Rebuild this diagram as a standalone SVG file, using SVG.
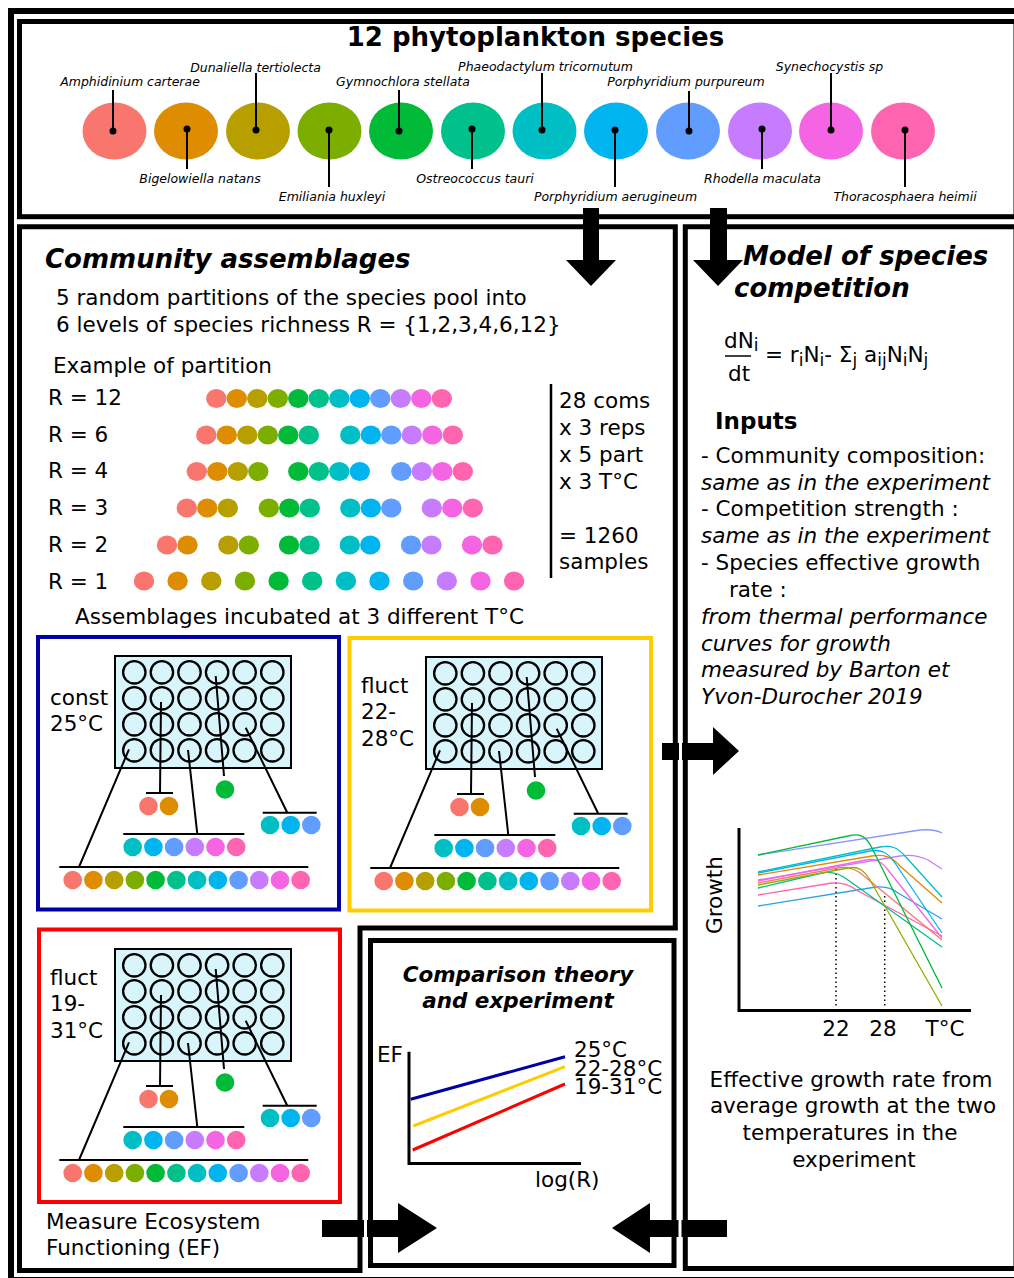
<svg xmlns="http://www.w3.org/2000/svg" xmlns:xlink="http://www.w3.org/1999/xlink" width="1014" height="1278" viewBox="0 0 1014 1278">
<style>
text{font-family:"DejaVu Sans","Liberation Sans",sans-serif;font-size:21.5px;fill:#000}
.sp{font-size:12.5px;font-style:italic}
.bi{font-weight:bold;font-style:italic;font-size:26px}
.bi2{font-weight:bold;font-style:italic;font-size:21.5px}
.it{font-style:italic}
.sub{font-size:17px}
.frame{fill:none;stroke:#000;stroke-width:5}
.pin{stroke:#000;stroke-width:2;fill:none}
.thin{stroke:#000;stroke-width:2;fill:none}
.well{fill:#d8f5fb;stroke:#000;stroke-width:2.3}
.crv{fill:none;stroke-width:1.3}
.arrow{fill:#000}
.gap{fill:#fff}
.c1{fill:#F8766D}.c2{fill:#DE8C00}.c3{fill:#B79F00}.c4{fill:#7CAE00}.c5{fill:#00BA38}.c6{fill:#00C08B}
.c7{fill:#00BFC4}.c8{fill:#00B4F0}.c9{fill:#619CFF}.c10{fill:#C77CFF}.c11{fill:#F564E3}.c12{fill:#FF64B0}
</style>
<defs>
<g id="plateTpl">
<rect x="115" y="656" width="176" height="112" fill="#d8f5fb" stroke="#000" stroke-width="2"/>
<g class="well">
<circle cx="134.3" cy="672.3" r="11.2"/><circle cx="161.9" cy="672.3" r="11.2"/><circle cx="189.5" cy="672.3" r="11.2"/><circle cx="217.1" cy="672.3" r="11.2"/><circle cx="244.7" cy="672.3" r="11.2"/><circle cx="272.3" cy="672.3" r="11.2"/>
<circle cx="134.3" cy="698.3" r="11.2"/><circle cx="161.9" cy="698.3" r="11.2"/><circle cx="189.5" cy="698.3" r="11.2"/><circle cx="217.1" cy="698.3" r="11.2"/><circle cx="244.7" cy="698.3" r="11.2"/><circle cx="272.3" cy="698.3" r="11.2"/>
<circle cx="134.3" cy="724.3" r="11.2"/><circle cx="161.9" cy="724.3" r="11.2"/><circle cx="189.5" cy="724.3" r="11.2"/><circle cx="217.1" cy="724.3" r="11.2"/><circle cx="244.7" cy="724.3" r="11.2"/><circle cx="272.3" cy="724.3" r="11.2"/>
<circle cx="134.3" cy="750.3" r="11.2"/><circle cx="161.9" cy="750.3" r="11.2"/><circle cx="189.5" cy="750.3" r="11.2"/><circle cx="217.1" cy="750.3" r="11.2"/><circle cx="244.7" cy="750.3" r="11.2"/><circle cx="272.3" cy="750.3" r="11.2"/>
</g>
<g class="thin">
<path d="M161,702 L160,793 M146,793 H173"/>
<path d="M215.7,676 L224,776"/>
<path d="M245.7,727.7 L287.3,812.7 M262.7,812.7 H316.7"/>
<path d="M188,750 L197.3,834 M123.3,834 H244.3"/>
<path d="M129,749.3 L79,867 M59.3,867 H308.3"/>
</g>
<circle class="c1" cx="148.5" cy="806" r="9.3"/><circle class="c2" cx="169" cy="806" r="9.3"/>
<circle class="c5" cx="225" cy="789.5" r="9.3"/>
<circle class="c7" cx="270" cy="825" r="9.3"/><circle class="c8" cx="290.7" cy="825" r="9.3"/><circle class="c9" cx="311.3" cy="825" r="9.3"/>
<circle class="c7" cx="132.7" cy="847" r="9.3"/><circle class="c8" cx="153.4" cy="847" r="9.3"/><circle class="c9" cx="174.1" cy="847" r="9.3"/><circle class="c10" cx="194.8" cy="847" r="9.3"/><circle class="c11" cx="215.5" cy="847" r="9.3"/><circle class="c12" cx="236.2" cy="847" r="9.3"/>
<circle class="c1" cx="72.7" cy="880" r="9.3"/><circle class="c2" cx="93.4" cy="880" r="9.3"/><circle class="c3" cx="114.2" cy="880" r="9.3"/><circle class="c4" cx="134.9" cy="880" r="9.3"/><circle class="c5" cx="155.6" cy="880" r="9.3"/><circle class="c6" cx="176.4" cy="880" r="9.3"/><circle class="c7" cx="197.1" cy="880" r="9.3"/><circle class="c8" cx="217.8" cy="880" r="9.3"/><circle class="c9" cx="238.6" cy="880" r="9.3"/><circle class="c10" cx="259.3" cy="880" r="9.3"/><circle class="c11" cx="280" cy="880" r="9.3"/><circle class="c12" cx="300.7" cy="880" r="9.3"/>
</g>
</defs>
<rect width="1014" height="1278" fill="#fff"/>

<!-- outer frame -->
<rect id="outer-frame" x="11" y="11" width="1014" height="1269" fill="none" stroke="#000" stroke-width="6"/>

<!-- top box: species -->
<g id="species-pool">
<rect class="frame" x="19.5" y="21.5" width="996.5" height="195.2"/>
<text x="535.5" y="46" text-anchor="middle" style="font-weight:bold;font-size:26px">12 phytoplankton species</text>
<g id="sp1"><ellipse class="c1" cx="114.5" cy="131" rx="32" ry="28.5"/><path class="pin" d="M113,131 V90"/><circle cx="113" cy="131" r="3.5"/><text class="sp" x="130" y="86" text-anchor="middle">Amphidinium carterae</text></g>
<g id="sp2"><ellipse class="c2" cx="186" cy="131" rx="32" ry="28.5"/><path class="pin" d="M187,129 V169"/><circle cx="187" cy="129" r="3.5"/><text class="sp" x="200" y="183" text-anchor="middle">Bigelowiella natans</text></g>
<g id="sp3"><ellipse class="c3" cx="258" cy="131" rx="32" ry="28.5"/><path class="pin" d="M256,130 V73"/><circle cx="256" cy="130" r="3.5"/><text class="sp" x="255.5" y="71.5" text-anchor="middle">Dunaliella tertiolecta</text></g>
<g id="sp4"><ellipse class="c4" cx="329.5" cy="131" rx="32" ry="28.5"/><path class="pin" d="M329,130 V187"/><circle cx="329" cy="130" r="3.5"/><text class="sp" x="332" y="200.5" text-anchor="middle">Emiliania huxleyi</text></g>
<g id="sp5"><ellipse class="c5" cx="401" cy="131" rx="32" ry="28.5"/><path class="pin" d="M399,131 V90"/><circle cx="399" cy="131" r="3.5"/><text class="sp" x="403" y="86" text-anchor="middle">Gymnochlora stellata</text></g>
<g id="sp6"><ellipse class="c6" cx="473" cy="131" rx="32" ry="28.5"/><path class="pin" d="M472,129 V169"/><circle cx="472" cy="129" r="3.5"/><text class="sp" x="475" y="183" text-anchor="middle">Ostreococcus tauri</text></g>
<g id="sp7"><ellipse class="c7" cx="544.5" cy="131" rx="32" ry="28.5"/><path class="pin" d="M542,130 V73"/><circle cx="542" cy="130" r="3.5"/><text class="sp" x="545.5" y="71" text-anchor="middle">Phaeodactylum tricornutum</text></g>
<g id="sp8"><ellipse class="c8" cx="616" cy="131" rx="32" ry="28.5"/><path class="pin" d="M615,130 V187"/><circle cx="615" cy="130" r="3.5"/><text class="sp" x="615.5" y="200.5" text-anchor="middle">Porphyridium aerugineum</text></g>
<g id="sp9"><ellipse class="c9" cx="688" cy="131" rx="32" ry="28.5"/><path class="pin" d="M689,131 V91"/><circle cx="689" cy="131" r="3.5"/><text class="sp" x="686" y="86" text-anchor="middle">Porphyridium purpureum</text></g>
<g id="sp10"><ellipse class="c10" cx="760" cy="131" rx="32" ry="28.5"/><path class="pin" d="M762,129 V169"/><circle cx="762" cy="129" r="3.5"/><text class="sp" x="762.5" y="183" text-anchor="middle">Rhodella maculata</text></g>
<g id="sp11"><ellipse class="c11" cx="831" cy="131" rx="32" ry="28.5"/><path class="pin" d="M831,130 V73"/><circle cx="831" cy="130" r="3.5"/><text class="sp" x="829.5" y="71" text-anchor="middle">Synechocystis sp</text></g>
<g id="sp12"><ellipse class="c12" cx="903" cy="131" rx="32" ry="28.5"/><path class="pin" d="M905,130 V187"/><circle cx="905" cy="130" r="3.5"/><text class="sp" x="905" y="200.5" text-anchor="middle">Thoracosphaera heimii</text></g>
</g>

<!-- community assemblages -->
<g id="community">
<path class="frame" d="M19.5,226.7 H675.3 V928 H360 V1270.5 H19.5 Z"/>
<text class="bi" x="45" y="268">Community assemblages</text>
<text x="56" y="305">5 random partitions of the species pool into</text>
<text x="56" y="332">6 levels of species richness R = {1,2,3,4,6,12}</text>
<text x="53" y="373">Example of partition</text>
<text x="48" y="405">R = 12</text>
<text x="48" y="441.7">R = 6</text>
<text x="48" y="478">R = 4</text>
<text x="48" y="515">R = 3</text>
<text x="48" y="552">R = 2</text>
<text x="48" y="589">R = 1</text>
<g id="partition-dots">
<g transform="translate(0,398.5)">
<ellipse class="c1" cx="216.3" rx="10.2" ry="9.5"/><ellipse class="c2" cx="236.8" rx="10.2" ry="9.5"/><ellipse class="c3" cx="257.3" rx="10.2" ry="9.5"/><ellipse class="c4" cx="277.8" rx="10.2" ry="9.5"/><ellipse class="c5" cx="298.3" rx="10.2" ry="9.5"/><ellipse class="c6" cx="318.8" rx="10.2" ry="9.5"/><ellipse class="c7" cx="339.3" rx="10.2" ry="9.5"/><ellipse class="c8" cx="359.8" rx="10.2" ry="9.5"/><ellipse class="c9" cx="380.3" rx="10.2" ry="9.5"/><ellipse class="c10" cx="400.8" rx="10.2" ry="9.5"/><ellipse class="c11" cx="421.3" rx="10.2" ry="9.5"/><ellipse class="c12" cx="441.8" rx="10.2" ry="9.5"/>
</g>
<g transform="translate(0,435)">
<ellipse class="c1" cx="206.3" rx="10.2" ry="9.5"/><ellipse class="c2" cx="226.8" rx="10.2" ry="9.5"/><ellipse class="c3" cx="247.3" rx="10.2" ry="9.5"/><ellipse class="c4" cx="267.8" rx="10.2" ry="9.5"/><ellipse class="c5" cx="288.3" rx="10.2" ry="9.5"/><ellipse class="c6" cx="308.8" rx="10.2" ry="9.5"/><ellipse class="c7" cx="350.3" rx="10.2" ry="9.5"/><ellipse class="c8" cx="370.8" rx="10.2" ry="9.5"/><ellipse class="c9" cx="391.3" rx="10.2" ry="9.5"/><ellipse class="c10" cx="411.8" rx="10.2" ry="9.5"/><ellipse class="c11" cx="432.3" rx="10.2" ry="9.5"/><ellipse class="c12" cx="452.8" rx="10.2" ry="9.5"/>
</g>
<g transform="translate(0,471.5)">
<ellipse class="c1" cx="196.8" rx="10.2" ry="9.5"/><ellipse class="c2" cx="217.3" rx="10.2" ry="9.5"/><ellipse class="c3" cx="237.8" rx="10.2" ry="9.5"/><ellipse class="c4" cx="258.3" rx="10.2" ry="9.5"/><ellipse class="c5" cx="298.3" rx="10.2" ry="9.5"/><ellipse class="c6" cx="318.8" rx="10.2" ry="9.5"/><ellipse class="c7" cx="339.3" rx="10.2" ry="9.5"/><ellipse class="c8" cx="359.8" rx="10.2" ry="9.5"/><ellipse class="c9" cx="401.3" rx="10.2" ry="9.5"/><ellipse class="c10" cx="421.8" rx="10.2" ry="9.5"/><ellipse class="c11" cx="442.3" rx="10.2" ry="9.5"/><ellipse class="c12" cx="462.8" rx="10.2" ry="9.5"/>
</g>
<g transform="translate(0,508)">
<ellipse class="c1" cx="186.8" rx="10.2" ry="9.5"/><ellipse class="c2" cx="207.3" rx="10.2" ry="9.5"/><ellipse class="c3" cx="227.8" rx="10.2" ry="9.5"/><ellipse class="c4" cx="268.8" rx="10.2" ry="9.5"/><ellipse class="c5" cx="289.3" rx="10.2" ry="9.5"/><ellipse class="c6" cx="309.8" rx="10.2" ry="9.5"/><ellipse class="c7" cx="350.3" rx="10.2" ry="9.5"/><ellipse class="c8" cx="370.8" rx="10.2" ry="9.5"/><ellipse class="c9" cx="391.3" rx="10.2" ry="9.5"/><ellipse class="c10" cx="431.8" rx="10.2" ry="9.5"/><ellipse class="c11" cx="452.3" rx="10.2" ry="9.5"/><ellipse class="c12" cx="472.8" rx="10.2" ry="9.5"/>
</g>
<g transform="translate(0,545)">
<ellipse class="c1" cx="167" rx="10.2" ry="9.5"/><ellipse class="c2" cx="187.5" rx="10.2" ry="9.5"/><ellipse class="c3" cx="228.3" rx="10.2" ry="9.5"/><ellipse class="c4" cx="248.8" rx="10.2" ry="9.5"/><ellipse class="c5" cx="289" rx="10.2" ry="9.5"/><ellipse class="c6" cx="309.5" rx="10.2" ry="9.5"/><ellipse class="c7" cx="349.8" rx="10.2" ry="9.5"/><ellipse class="c8" cx="370.3" rx="10.2" ry="9.5"/><ellipse class="c9" cx="411" rx="10.2" ry="9.5"/><ellipse class="c10" cx="431.5" rx="10.2" ry="9.5"/><ellipse class="c11" cx="472" rx="10.2" ry="9.5"/><ellipse class="c12" cx="492.5" rx="10.2" ry="9.5"/>
</g>
<g transform="translate(0,581)">
<ellipse class="c1" cx="144" rx="10.2" ry="9.5"/><ellipse class="c2" cx="177.6" rx="10.2" ry="9.5"/><ellipse class="c3" cx="211.3" rx="10.2" ry="9.5"/><ellipse class="c4" cx="244.9" rx="10.2" ry="9.5"/><ellipse class="c5" cx="278.6" rx="10.2" ry="9.5"/><ellipse class="c6" cx="312.2" rx="10.2" ry="9.5"/><ellipse class="c7" cx="345.9" rx="10.2" ry="9.5"/><ellipse class="c8" cx="379.5" rx="10.2" ry="9.5"/><ellipse class="c9" cx="413.2" rx="10.2" ry="9.5"/><ellipse class="c10" cx="446.8" rx="10.2" ry="9.5"/><ellipse class="c11" cx="480.5" rx="10.2" ry="9.5"/><ellipse class="c12" cx="514.1" rx="10.2" ry="9.5"/>
</g>
</g>
<path d="M551,384 V578" stroke="#000" stroke-width="2.5"/>
<text x="559" y="408">28 coms</text>
<text x="559" y="434.5">x 3 reps</text>
<text x="559" y="462">x 5 part</text>
<text x="559" y="489">x 3 T°C</text>
<text x="559" y="543">= 1260</text>
<text x="559" y="569">samples</text>
<text x="75" y="624">Assemblages incubated at 3 different T°C</text>
<text x="46" y="1228.5">Measure Ecosystem</text>
<text x="46" y="1255">Functioning (EF)</text>
</g>

<g id="treatment-const25">
<rect x="38" y="637" width="301" height="272.5" fill="none" stroke="#0000a6" stroke-width="4"/>
<use xlink:href="#plateTpl"/>
<text x="50" y="705">const</text>
<text x="50" y="731">25°C</text>
</g>
<g id="treatment-fluct22-28">
<rect x="349.5" y="638" width="301.5" height="272.5" fill="none" stroke="#ffcc00" stroke-width="4"/>
<use xlink:href="#plateTpl" transform="translate(311,1)"/>
<text x="361" y="692.7">fluct</text>
<text x="361" y="719.3">22-</text>
<text x="361" y="746">28°C</text>
</g>
<g id="treatment-fluct19-31">
<rect x="39" y="929.5" width="301" height="272.5" fill="none" stroke="#ff0000" stroke-width="4"/>
<use xlink:href="#plateTpl" transform="translate(0,293)"/>
<text x="50" y="984.5">fluct</text>
<text x="50" y="1011">19-</text>
<text x="50" y="1037.5">31°C</text>
</g>

<!-- model box -->
<g id="model">
<path class="frame" d="M1016,226.7 H685.3 V1268.5 H1016 Z"/>
<text class="bi" x="743" y="264.5">Model of species</text>
<text class="bi" x="734" y="296.5">competition</text>
<text x="724" y="348">dN<tspan class="sub" dy="3">i</tspan></text>
<path d="M725,356 H751" stroke="#000" stroke-width="1.5"/>
<text x="728" y="381">dt</text>
<text x="765" y="362">= r<tspan class="sub" dy="4">i</tspan><tspan dy="-4">N</tspan><tspan class="sub" dy="4">i</tspan><tspan dy="-4">- Σ</tspan><tspan class="sub" dy="4">j</tspan><tspan dy="-4"> a</tspan><tspan class="sub" dy="4">ij</tspan><tspan dy="-4">N</tspan><tspan class="sub" dy="4">i</tspan><tspan dy="-4">N</tspan><tspan class="sub" dy="4">j</tspan></text>
<text x="715" y="428.5" style="font-weight:bold;font-size:23px">Inputs</text>
<text x="701" y="463">- Community composition:</text>
<text class="it" x="701" y="489.5">same as in the experiment</text>
<text x="701" y="516">- Competition strength :</text>
<text class="it" x="701" y="542.7">same as in the experiment</text>
<text x="701" y="570">- Species effective growth</text>
<text x="729" y="597">rate :</text>
<text class="it" x="701" y="624">from thermal performance</text>
<text class="it" x="701" y="650.7">curves for growth</text>
<text class="it" x="701" y="677.3">measured by Barton et</text>
<text class="it" x="701" y="704">Yvon-Durocher 2019</text>
<g id="growth-chart">
<path d="M739,828 V1010.5 H971" fill="none" stroke="#000" stroke-width="3"/>
<path d="M836,869 V1008 M884.7,896 V1008" stroke="#000" stroke-width="1.5" stroke-dasharray="1.5,3"/>
<path class="crv" stroke="#8a94ff" d="M758,855 L920,830 C932,829 938,831 942,833"/>
<path class="crv" stroke="#C77CFF" d="M758,880 L900,856 C912,854 920,856 928,860 L942,869"/>
<path class="crv" stroke="#00BFC4" d="M758,872 L880,847 C892,845 898,848 905,856 L942,897"/>
<path class="crv" stroke="#DE8C00" d="M758,875 L872,856 C884,854 892,857 900,866 L942,903"/>
<path class="crv" stroke="#29a3e6" d="M758,906 L876,887 C886,886 892,888 898,893 L942,919"/>
<path class="crv" stroke="#00B4F0" d="M758,873 L870,851 C882,849 888,853 895,863 L942,933"/>
<path class="crv" stroke="#FF64B0" d="M758,895 L832,883 C842,882 850,885 858,891 L942,936"/>
<path class="crv" stroke="#F564E3" d="M758,881 L866,860 C876,858 882,862 888,870 L942,938"/>
<path class="crv" stroke="#F8766D" d="M758,883 L838,868 C848,866 856,869 864,876 L942,940"/>
<path class="crv" stroke="#00C08B" d="M758,888 L822,873 C832,871 840,874 848,880 L942,947"/>
<path class="crv" stroke="#00BA38" d="M758,855 L848,836 C860,833 866,836 872,848 L942,988"/>
<path class="crv" stroke="#94ac00" d="M758,885 L848,868 C858,866 864,870 870,880 L942,1006"/>
<text x="0" y="0" transform="translate(722,895) rotate(-90)" text-anchor="middle">Growth</text>
<text x="836" y="1036" text-anchor="middle">22</text>
<text x="883" y="1036" text-anchor="middle">28</text>
<text x="945" y="1036" text-anchor="middle">T°C</text>
</g>
<text x="851" y="1086.7" text-anchor="middle">Effective growth rate from</text>
<text x="853" y="1113.3" text-anchor="middle">average growth at the two</text>
<text x="850" y="1140" text-anchor="middle">temperatures in the</text>
<text x="854" y="1167.3" text-anchor="middle">experiment</text>
</g>

<!-- comparison box -->
<g id="comparison">
<rect class="frame" x="370.5" y="940.5" width="303.5" height="325"/>
<text class="bi2" x="518" y="982" text-anchor="middle">Comparison theory</text>
<text class="bi2" x="518" y="1008.3" text-anchor="middle">and experiment</text>
<path d="M409,1051.7 V1163.5 H581" fill="none" stroke="#000" stroke-width="3"/>
<path d="M410.7,1099.3 L565,1056.7" stroke="#0000a6" stroke-width="3"/>
<path d="M413.3,1126 L565,1066.7" stroke="#ffcc00" stroke-width="3"/>
<path d="M412.7,1150 L565,1084" stroke="#ff0000" stroke-width="3"/>
<text x="377" y="1061.7">EF</text>
<text x="574" y="1056.7">25°C</text>
<text x="574" y="1075.7">22-28°C</text>
<text x="574" y="1094.3">19-31°C</text>
<text x="535" y="1186.7">log(R)</text>
</g>

<!-- connectors -->
<g id="connectors">
<polygon class="arrow" points="583,208 599,208 599,260 616,260 591,286 566,260 583,260"/>
<polygon class="arrow" points="710,208 727,208 727,260 743,260 718,286 693,260 710,260"/>
<polygon class="arrow" points="662,743 713,743 713,727 739,751 713,775 713,760 662,760"/>
<polygon class="arrow" points="322,1220 398,1220 398,1203 437,1228 398,1253 398,1237 322,1237"/>
<polygon class="arrow" points="727,1220 650,1220 650,1203 612,1228 650,1253 650,1237 727,1237"/>
<rect class="gap" x="679" y="743" width="3" height="17"/>
<rect class="gap" x="364" y="1220" width="3" height="17"/>
<rect class="gap" x="678.5" y="1220" width="3" height="17"/>
</g>
</svg>
